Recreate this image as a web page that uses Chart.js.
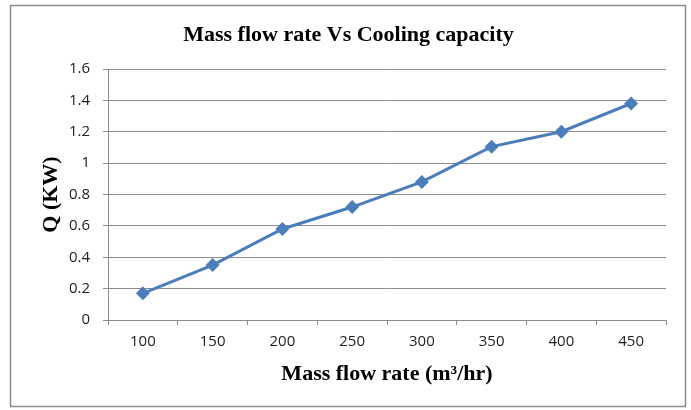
<!DOCTYPE html>
<html>
<head>
<meta charset="utf-8">
<script src="https://cdn.jsdelivr.net/npm/chart.js@4"></script>
<style>
  html, body { margin: 0; padding: 0; background: #fff; }
  #wrap { width: 691px; height: 410px; position: relative; }
</style>
</head>
<body>
<div id="wrap"><canvas id="c" width="691" height="410"></canvas></div>
<script>
const categories = ['100', '150', '200', '250', '300', '350', '400', '450'];
const qValues = [0.17, 0.35, 0.58, 0.72, 0.88, 1.105, 1.20, 1.38];
const yTicks = [0, 0.2, 0.4, 0.6, 0.8, 1, 1.2, 1.4, 1.6];
const titleText = 'Mass flow rate Vs Cooling capacity';
const xTitle = 'Mass flow rate (m\u00B3/hr)';
const yTitle = 'Q (KW)';

const frame = {
  id: 'frame',
  beforeDraw(chart) {
    const ctx = chart.ctx;
    ctx.save();
    ctx.fillStyle = '#ffffff';
    ctx.fillRect(0, 0, chart.width, chart.height);
    ctx.strokeStyle = '#8c8c8c';
    ctx.lineWidth = 1.5;
    ctx.strokeRect(10.5, 5.5, 675, 401);
    ctx.restore();
  },
  afterDraw(chart) {
    const ctx = chart.ctx;
    ctx.save();
    ctx.fillStyle = '#000';
    ctx.font = "bold 22px 'Liberation Serif', serif";
    ctx.textAlign = 'center';
    ctx.textBaseline = 'alphabetic';
    ctx.fillText(titleText, 348.5, 41);
    ctx.restore();
  }
};

new Chart(document.getElementById('c'), {
  type: 'line',
  data: {
    labels: categories,
    datasets: [{
      data: qValues,
      borderColor: '#4A7EBB',
      backgroundColor: '#4A7EBB',
      borderWidth: 3,
      pointStyle: 'rectRot',
      pointRadius: 7,
      pointHoverRadius: 7,
      pointBorderWidth: 0,
      tension: 0
    }]
  },
  options: {
    responsive: false,
    animation: false,
    devicePixelRatio: 1,
    layout: { padding: { left: 12, right: 25, top: 69, bottom: 0 } },
    plugins: {
      legend: { display: false },
      tooltip: { enabled: false },
      title: { display: false }
    },
    scales: {
      x: {
        type: 'category',
        offset: true,
        grid: { offset: true, drawOnChartArea: false, drawTicks: true, tickLength: 5, color: '#8c8c8c' },
        border: { color: '#8c8c8c', width: 1 },
        ticks: {
          color: '#222',
          font: { family: "'Open Sans', sans-serif", size: 15 },
          padding: 8,
          maxRotation: 0
        },
        title: {
          display: true,
          text: xTitle,
          color: '#000',
          font: { family: "'Liberation Serif', serif", size: 22, weight: 'bold' },
          padding: { top: 0, bottom: 22 }
        },
        afterFit(s) { s.height = 90; }
      },
      y: {
        min: 0,
        max: 1.6,
        afterBuildTicks(s) { s.ticks = yTicks.map(v => ({ value: v })); },
        grid: { drawTicks: true, tickLength: 5, color: '#8c8c8c' },
        border: { color: '#8c8c8c', width: 1 },
        ticks: {
          color: '#222',
          font: { family: "'Open Sans', sans-serif", size: 15 },
          padding: 13,
          callback: v => String(Math.round(v * 10) / 10)
        },
        title: {
          display: true,
          text: yTitle,
          color: '#000',
          font: { family: "'Liberation Serif', serif", size: 22, weight: 'bold' },
          padding: { top: 26, bottom: 0 }
        },
        afterFit(s) { s.width = 96; }
      }
    }
  },
  plugins: [frame]
});
</script>
</body>
</html>
